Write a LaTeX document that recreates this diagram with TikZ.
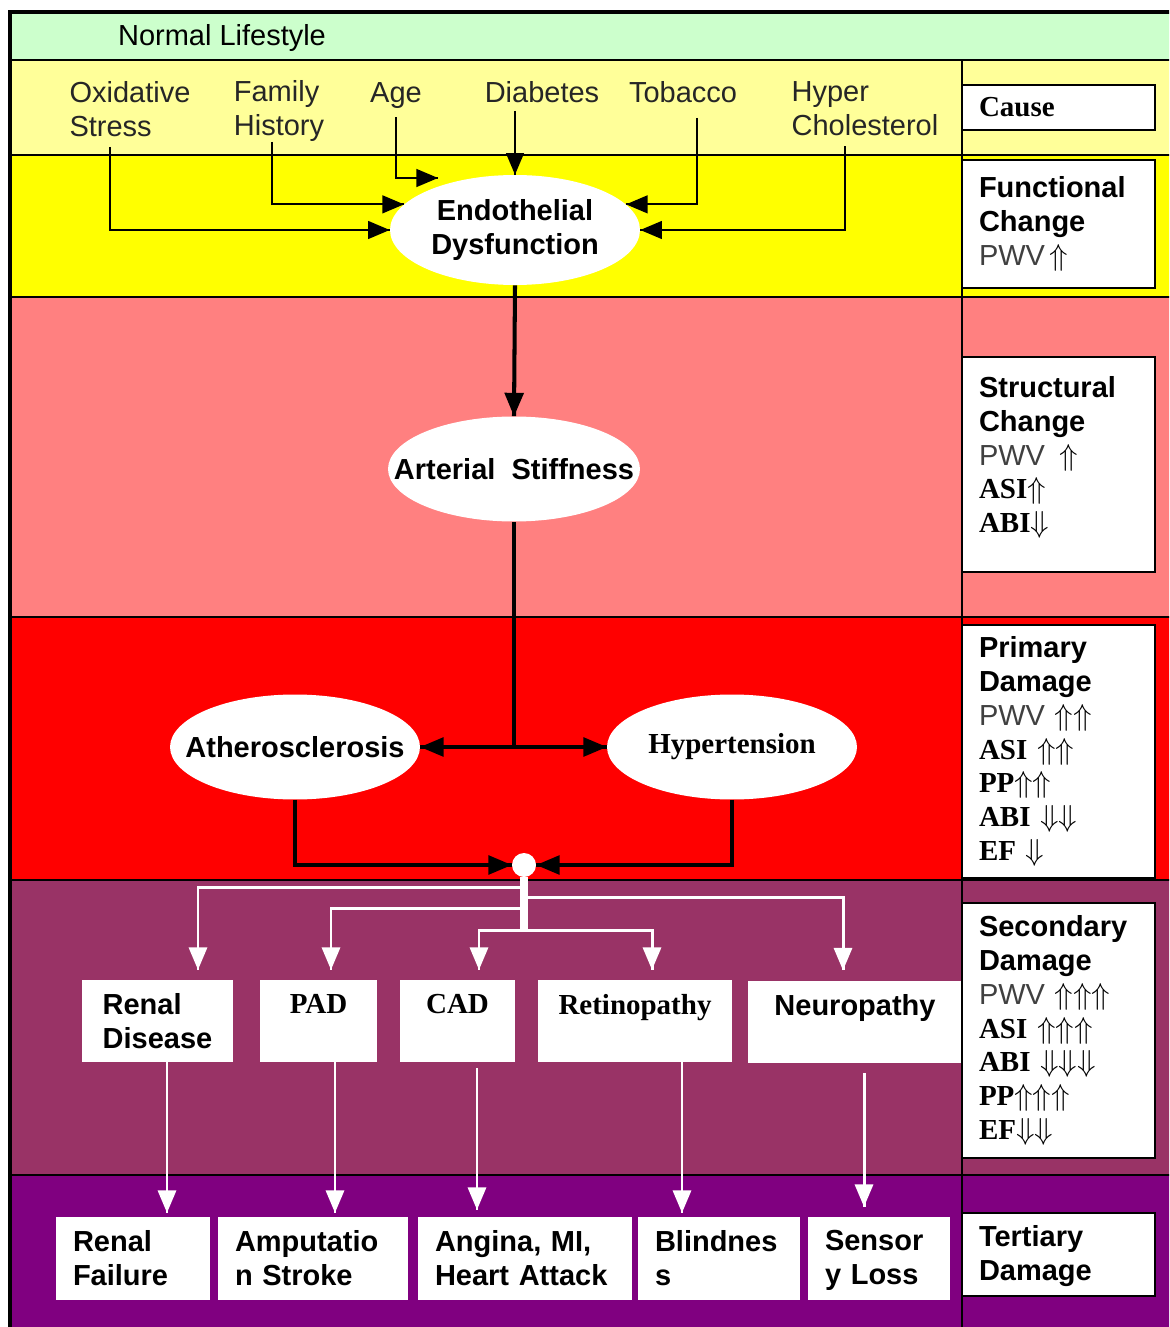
\documentclass[tikz,border=0pt]{standalone}
\usepackage{amsmath}
\usepackage{amssymb}
\usepackage{fontspec}
\setmainfont{Liberation Sans}
\newfontfamily\tnr{Liberation Serif}
\usepackage{tikz}
\usetikzlibrary{arrows}
\usetikzlibrary{decorations.markings}
\usetikzlibrary{shapes.geometric}
\definecolor{mint}{HTML}{CCFFCC}
\definecolor{cream}{HTML}{FFFF99}
\definecolor{lemon}{HTML}{FFFF00}
\definecolor{salmon}{HTML}{FF8080}
\definecolor{scarlet}{HTML}{FF0000}
\definecolor{plum}{HTML}{993366}
\definecolor{grape}{HTML}{800080}
\newcommand{\figfont}{\fontsize{16.5}{19.3}\selectfont}
\newcommand{\pwv}{{\color{black!75}PWV}}
\tikzset{tipscale/.initial = 1.5}
\tikzset{->/.style = {decoration={markings,
                                  mark=at position 1 with {\arrow[scale=\pgfkeysvalueof{/tikz/tipscale}]{triangle 45}}},
                      postaction={decorate}}}
\tikzset{factor/.style = {inner sep = 0, align = left, text = black!85}}
\tikzset{oval/.style = {ellipse, fill = white, inner sep = 0, align = center, font = \figfont\bfseries}}
\tikzset{side/.style = {draw, fill = white, line width = 0.8pt, inner xsep = 0.34cm, inner ysep = 0,
                        text width = 3.18cm, align = left}}
\tikzset{sbox/.style = {fill = white, inner sep = 0, align = center, minimum height = 1.64cm,
                        font = \figfont\bfseries}}
\tikzset{tbox/.style = {fill = white, inner xsep = 0.34cm, inner ysep = 0, align = left,
                        minimum height = 1.66cm, font = \figfont\bfseries}}
\tikzset{link/.style = {line width = 1.1pt, tipscale = 1.35}}
\tikzset{trunk/.style = {line width = 2.3pt, tipscale = 0.95}}
\tikzset{wlink/.style = {white, line width = 1.7pt, tipscale = 1.1}}

\begin{document}
\begin{tikzpicture}[x=0.02cm, y=-0.02cm, every node/.style={font=\figfont}]
      \useasboundingbox (0, 0) rectangle (1169, 1327);
      \clip (0, 0) rectangle (1169, 1327);

      \foreach \ya/\yb/\col in {12/60/mint, 60/155/cream, 155/297/lemon, 297/617/salmon,
                                617/880/scarlet, 880/1175/plum, 1175/1340/grape} {
        \fill [\col] (10, \ya) rectangle (1180, \yb);
      }
      \foreach \y in {155, 297, 617, 880, 1175} {
        \draw [line width=0.8pt] (10, \y) -- (1180, \y);
      }
      \draw [line width=1.2pt] (10, 60) -- (1180, 60);
      \draw [line width=0.8pt] (962, 60) -- (962, 1340);
      \draw [line width=1.8pt] (1180, 12) -- (10, 12) -- (10, 1340);

      \node (life) at (222, 38) {Normal Lifestyle};

      \node [factor] (oxid) at (130, 109) {Oxidative\\Stress};
      \node [factor] (fam) at (279, 111) {Family\\History};
      \node [factor] (age) at (396, 96) {Age};
      \node [factor] (diab) at (542, 92) {Diabetes};
      \node [factor] (tob) at (683, 92) {Tobacco};
      \node [factor] (hyp) at (865, 109) {Hyper\\Cholesterol};

      \node [oval, minimum width=5cm, minimum height=2.2cm] (endo) at (515, 230) {Endothelial\\Dysfunction};
      \node [oval, minimum width=5.04cm, minimum height=2.1cm] (stiff) at (514, 469) {\makebox[0pt]{Arterial\ \ Stiffness}};
      \node [oval, minimum width=5cm, minimum height=2.1cm] (athero) at (295, 747) {\makebox[0pt]{Atherosclerosis}};
      \node [oval, minimum width=5cm, minimum height=2.1cm, font=\figfont\tnr\bfseries] (hyper) at (732, 747) {Hypertension};
      \node [circle, fill=white, minimum size=0.48cm, inner sep=0] (hub) at (524, 865) {};

      \node [sbox, minimum width=3.02cm, align=left] (renal) at (157.5, 1021) {Renal\\Disease};
      \node [sbox, minimum width=2.34cm, font=\figfont\tnr\bfseries] (pad) at (318.5, 1021) {PAD\\\mbox{}};
      \node [sbox, minimum width=2.3cm, font=\figfont\tnr\bfseries] (cad) at (457.5, 1021) {CAD\\\mbox{}};
      \node [sbox, minimum width=3.88cm, font=\figfont\tnr\bfseries] (retino) at (635, 1021) {Retinopathy\\\mbox{}};
      \node [sbox, minimum width=4.28cm] (neuro) at (855, 1021.5) {Neuropathy\\\mbox{}};

      \node [tbox, text width=2.4cm] (rfail) at (133, 1258.5) {Renal\\Failure};
      \node [tbox, text width=3.12cm] (amput) at (313, 1258.5) {Amputatio\\n Stroke};
      \node [tbox, text width=3.6cm] (angina) at (525, 1258.5) {Angina, MI,\\Heart Attack};
      \node [tbox, text width=2.56cm] (blind) at (719, 1258.5) {Blindnes\\s};
      \node [tbox, text width=2.16cm] (sensor) at (879, 1258.5) {Sensor\strut\\y Loss};

      \node [side, minimum height=0.9cm] (cause) at (1058.5, 107.5) {{\tnr\bfseries Cause}};
      \node [side, minimum height=2.56cm] (func) at (1058.5, 224)
        {\textbf{Functional}\\\textbf{Change}\\\pwv\,$\Uparrow$};
      \node [side, minimum height=4.3cm] (struc) at (1058.5, 464.5)
        {\textbf{Structural}\\\textbf{Change}\\\pwv\ \,$\Uparrow$\\{\tnr\bfseries ASI}$\Uparrow$\\{\tnr\bfseries ABI}$\Downarrow$\\[-0.28cm]\mbox{}};
      \node [side, minimum height=5.06cm] (prim) at (1058.5, 751.5)
        {\textbf{Primary}\\\textbf{Damage}\\\pwv\ $\Uparrow\Uparrow$\\{\tnr\bfseries ASI} $\Uparrow\Uparrow$\\{\tnr\bfseries PP}$\Uparrow\Uparrow$\\{\tnr\bfseries ABI} $\Downarrow\Downarrow$\\{\tnr\bfseries EF} $\Downarrow$};
      \node [side, minimum height=5.1cm] (second) at (1058.5, 1030.5)
        {\textbf{Secondary}\\\textbf{Damage}\\\pwv\ $\Uparrow\Uparrow\Uparrow$\\{\tnr\bfseries ASI} $\Uparrow\Uparrow\Uparrow$\\{\tnr\bfseries ABI} $\Downarrow\Downarrow\Downarrow$\\{\tnr\bfseries PP}$\Uparrow\Uparrow\Uparrow$\\{\tnr\bfseries EF}$\Downarrow\Downarrow$};
      \node [side, minimum height=1.66cm] (tert) at (1058.5, 1254.5) {\textbf{Tertiary}\strut\\\textbf{Damage}};

      \coordinate (agetip) at (438, 178);
      \coordinate (fork) at (stiff.south |- athero.east);
      \coordinate (b1) at (524, 887);
      \coordinate (b2) at (524, 908);
      \coordinate (b3) at (524, 930);
      \coordinate (b4) at (524, 897);

      \draw [link, ->] ([xshift=-0.4cm, yshift=-0.2cm]oxid.south) |- (endo.west);
      \draw [link, ->] ([xshift=-0.14cm]fam.south) |- (endo.167);
      \draw [link, ->] ([yshift=-0.16cm]age.south) |- (agetip);
      \draw [link, ->] ([yshift=-0.16cm]diab.south -| endo.north) -- (endo.north);
      \draw [link, ->] ([xshift=0.28cm, yshift=-0.3cm]tob.south) |- (endo.13);
      \draw [link, ->] ([xshift=-0.4cm, yshift=-0.2cm]hyp.south) |- (endo.east);

      \draw [trunk, ->] (endo.south) -- (stiff.north);
      \draw [trunk] (stiff.south) -- (fork);
      \draw [trunk, ->] (fork) -- (athero.east);
      \draw [trunk, ->] (fork) -- (hyper.west);
      \draw [trunk, ->] (athero.south) |- (hub.west);
      \draw [trunk, ->] (hyper.south) |- (hub.east);

      \draw [white, line width=4pt] (hub.south) -- (b3);
      \draw [wlink, ->] (b1) -| ([xshift=0.81cm, yshift=0.2cm]renal.north);
      \draw [wlink, ->] (b2) -| ([xshift=0.25cm, yshift=0.2cm]pad.north);
      \draw [wlink, ->] (b3) -| ([xshift=0.43cm, yshift=0.2cm]cad.north);
      \draw [wlink, ->] (b3) -| ([xshift=0.34cm, yshift=0.2cm]retino.north);
      \draw [wlink, ->] (b4) -| ([xshift=-0.24cm, yshift=0.2cm]neuro.north);

      \draw [wlink, ->] ([xshift=0.19cm]renal.south) -- ([xshift=0.19cm, yshift=0.08cm]renal.south |- rfail.north);
      \draw [wlink, ->] ([xshift=0.33cm]pad.south) -- ([xshift=0.33cm, yshift=0.08cm]pad.south |- amput.north);
      \draw [wlink, ->] ([xshift=0.39cm, yshift=-0.12cm]cad.south) -- ([xshift=0.39cm, yshift=0.14cm]cad.south |- angina.north);
      \draw [wlink, ->] ([xshift=0.94cm]retino.south) -- ([xshift=0.94cm, yshift=0.08cm]retino.south |- blind.north);
      \draw [wlink, ->] ([xshift=0.18cm, yshift=-0.2cm]neuro.south) -- ([xshift=0.18cm, yshift=0.2cm]neuro.south |- sensor.north);
    \end{tikzpicture}
\end{document}
